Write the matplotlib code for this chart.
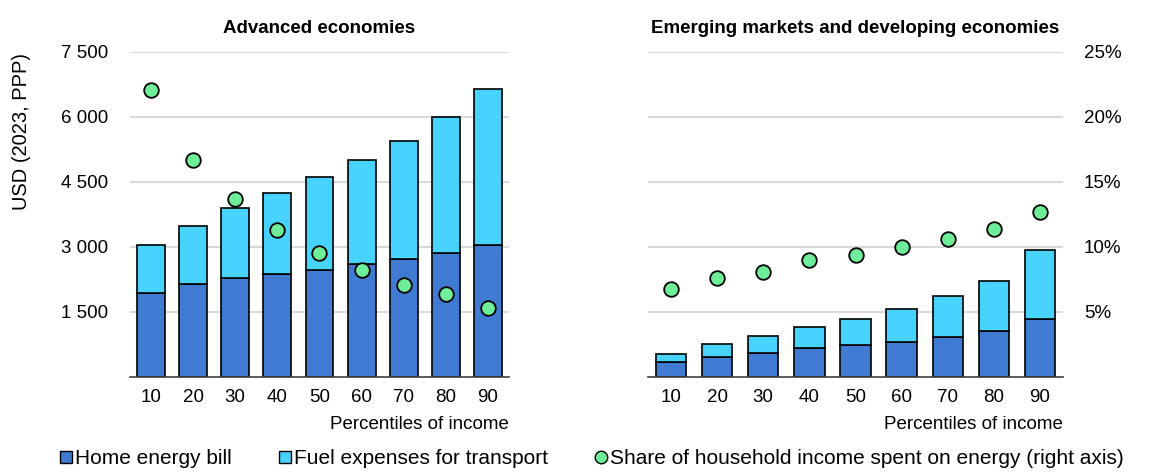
import matplotlib
matplotlib.use("Agg")
import matplotlib.pyplot as plt
from matplotlib.lines import Line2D
import numpy as np

plt.rcParams['font.family'] = ['Liberation Sans', 'DejaVu Sans']

percentiles = ["10", "20", "30", "40", "50", "60", "70", "80", "90"]

# Advanced economies (USD 2023, PPP)
adv_home = [1946, 2138, 2277, 2377, 2477, 2600, 2723, 2854, 3054]
adv_total = [3054, 3492, 3908, 4254, 4615, 5015, 5454, 6008, 6654]
adv_share = [22.1, 16.7, 13.7, 11.3, 9.5, 8.2, 7.1, 6.4, 5.3]

# Emerging markets and developing economies
emde_home = [354, 469, 554, 662, 731, 815, 915, 1054, 1346]
emde_total = [538, 754, 938, 1154, 1338, 1569, 1861, 2223, 2931]
emde_share = [6.8, 7.6, 8.1, 9.0, 9.4, 10.0, 10.6, 11.4, 12.7]

titles = ["Advanced economies", "Emerging markets and developing economies"]
usd_ticks = [1500, 3000, 4500, 6000, 7500]
usd_labels = ["1 500", "3 000", "4 500", "6 000", "7 500"]
pct_ticks = [5, 10, 15, 20, 25]
pct_labels = ["5%", "10%", "15%", "20%", "25%"]

c_home = "#3F7AD3"
c_fuel = "#48D3FF"
c_share = "#6EEE98"
c_grid = "#D9D9D9"

W, H = 1152, 472
fig = plt.figure(figsize=(W / 100, H / 100), dpi=100)

panels = [
    (130, 379, adv_home, adv_total, adv_share),
    (648, 415, emde_home, emde_total, emde_share),
]

fs = 13.5
x = np.arange(len(percentiles))
for i, (left, width, home, total, share) in enumerate(panels):
    ax = fig.add_axes([left / W, (H - 377) / H, width / W, 325 / H])
    fuel = np.array(total) - np.array(home)
    ax.bar(x, home, width=0.66, color=c_home, edgecolor="black", linewidth=1.2, zorder=2)
    ax.bar(x, fuel, bottom=home, width=0.66, color=c_fuel, edgecolor="black", linewidth=1.2, zorder=2)
    ax.set_xlim(-0.5, len(x) - 0.5)
    ax.set_ylim(0, 7500)
    ax.set_yticks(usd_ticks)
    ax.yaxis.grid(True, color=c_grid, linewidth=1.5)
    ax.set_axisbelow(True)
    ax.set_xticks(x)
    ax.set_xticklabels(percentiles, fontsize=fs)
    for s in ["top", "right", "left"]:
        ax.spines[s].set_visible(False)
    ax.spines["bottom"].set_color("#404040")
    ax.spines["bottom"].set_linewidth(1.2)
    ax.tick_params(length=0, pad=9)
    ax.set_title(titles[i], fontsize=13.5, fontweight="bold", pad=14)
    ax.set_xlabel("Percentiles of income", fontsize=fs, loc="right", labelpad=7)

    ax2 = ax.twinx()
    ax2.plot(x, share, "o", color=c_share, markeredgecolor="black", markeredgewidth=1.3, ms=10.5, zorder=3)
    ax2.set_ylim(0, 25)
    ax2.set_yticks(pct_ticks)
    for s in ["top", "right", "left", "bottom"]:
        ax2.spines[s].set_visible(False)
    ax2.tick_params(length=0, pad=15)

    if i == 0:
        ax.set_yticklabels(usd_labels, fontsize=fs)
        ax.tick_params(axis="y", pad=16)
        ax.set_ylabel("USD (2023, PPP)", fontsize=14.5)
        ax.yaxis.set_label_coords(-0.26, 0.755)
        ax2.set_yticklabels([])
    else:
        ax.set_yticklabels([])
        ax2.set_yticklabels(pct_labels, fontsize=fs)

handles = [
    Line2D([], [], marker="s", linestyle="none", color=c_home, markeredgecolor="black", ms=8),
    Line2D([], [], marker="s", linestyle="none", color=c_fuel, markeredgecolor="black", ms=8),
    Line2D([], [], marker="o", linestyle="none", color=c_share, markeredgecolor="black", ms=9),
]
labels = ["Home energy bill", "Fuel expenses for transport",
          "Share of household income spent on energy (right axis)"]
leg_x = [46, 265, 581]
for h, lab, lx in zip(handles, labels, leg_x):
    fig.legend([h], [lab], loc="lower left", bbox_to_anchor=(lx / W, -0.018),
               frameon=False, fontsize=15, handletextpad=0.1, handlelength=0.7,
               borderaxespad=0.2)

fig.savefig("out.png", dpi=100)
